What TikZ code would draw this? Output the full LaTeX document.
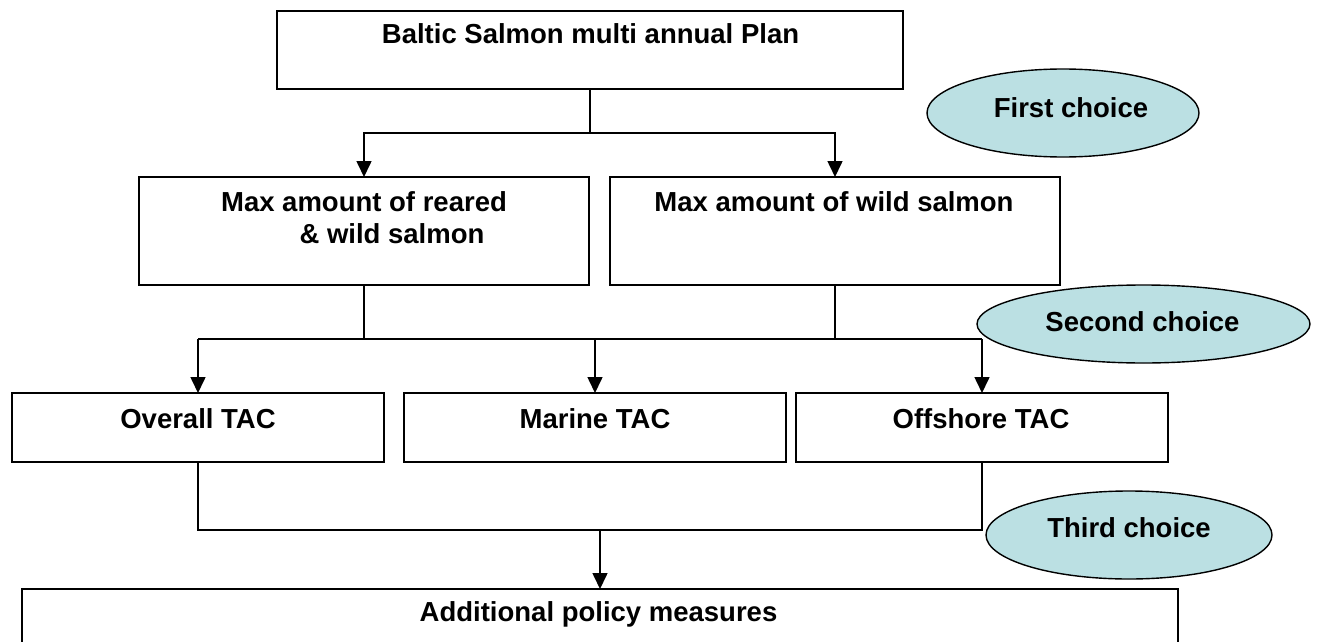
\documentclass[tikz,border=0pt]{standalone}
\usepackage{fontspec}
\setmainfont{Liberation Sans}
\usetikzlibrary{shapes.geometric,arrows.meta}
\definecolor{choicefill}{RGB}{187,224,227}
\begin{document}
\begin{tikzpicture}[x=1pt,y=-1pt,
  box/.style={draw,line width=1.5pt,rectangle,inner sep=0pt,outer sep=0pt},
  choice/.style={draw,line width=1.4pt,ellipse,fill=choicefill,inner sep=0pt,outer sep=0pt},
  lbl/.style={anchor=base,inner sep=0pt,font=\fontsize{27.5}{33}\selectfont\bfseries},
  conn/.style={line width=1.6pt},
  arr/.style={conn,-{Triangle[length=16pt,width=15pt]}}]
\useasboundingbox (0,0) rectangle (1317,642);
\clip (0,0) rectangle (1317,642);

% boxes
\node[box,minimum width=626pt,minimum height=78pt] (plan) at (590,50) {};
\node[box,minimum width=450pt,minimum height=108pt] (maxL) at (364,231) {};
\node[box,minimum width=450pt,minimum height=108pt] (maxR) at (835,231) {};
\node[box,minimum width=372pt,minimum height=69pt] (overall) at (198,427.5) {};
\node[box,minimum width=382pt,minimum height=69pt] (marine) at (595,427.5) {};
\node[box,minimum width=372pt,minimum height=69pt] (offshore) at (982,427.5) {};
\node[box,minimum width=1156pt,minimum height=140pt] (add) at (600,659) {};

% ellipses
\node[choice,minimum width=272pt,minimum height=88pt] (first) at (1063,113) {};
\node[choice,minimum width=333pt,minimum height=78pt] (second) at (1143.5,324) {};
\node[choice,minimum width=286pt,minimum height=88pt] (third) at (1129,535) {};

% texts
\node[lbl] (tplan) at (590.5,44) {Baltic Salmon multi annual Plan};
\node[lbl] (tmaxla) at (364,211) {Max amount of reared};
\node[lbl] (tmaxlb) at (392,243) {\& wild salmon};
\node[lbl] (tmaxr) at (834,211) {Max amount of wild salmon};
\node[lbl] (toverall) at (198,428) {Overall TAC};
\node[lbl] (tmarine) at (595,428) {Marine TAC};
\node[lbl] (toffshore) at (981,428) {Offshore TAC};
\node[lbl] (tadd) at (598.5,621) {Additional policy measures};
\node[lbl] (tfirst) at (1071,117) {First choice};
\node[lbl] (tsecond) at (1142.5,331.7) {Second choice};
\node[lbl] (tthird) at (1129,537) {Third choice};

% connectors
\coordinate (j1) at (590,133);
\coordinate (j2) at (595,339);
\coordinate (j3) at (600,530);

\draw[conn] (plan.south) -- (j1);
\draw[arr] (j1) -| (maxL.north);
\draw[arr] (j1) -| (maxR.north);

\draw[conn] (maxL.south) -- (maxL.south |- j2);
\draw[conn] (maxR.south) -- (maxR.south |- j2);
\draw[conn] (overall.north |- j2) -- (offshore.north |- j2);
\draw[arr] (overall.north |- j2) -- (overall.north);
\draw[arr] (j2) -- (marine.north);
\draw[arr] (offshore.north |- j2) -- (offshore.north);

\draw[conn] (overall.south) |- (offshore.south |- j3) -- (offshore.south);
\draw[arr] (j3) -- (add.north);
\end{tikzpicture}
\end{document}
